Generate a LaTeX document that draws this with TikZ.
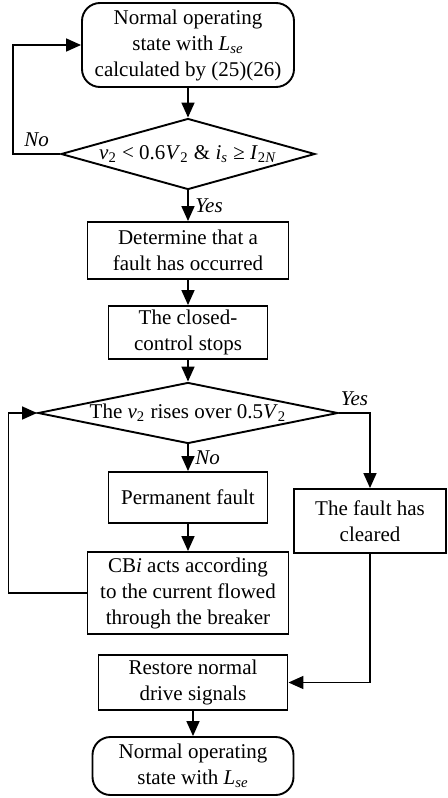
\documentclass[tikz,border=0pt]{standalone}
\usepackage{fontspec}
\setmainfont{Liberation Serif}
\usetikzlibrary{shapes.geometric,arrows.meta}
\newcommand{\Lse}{\textit{L}\textsubscript{\textit{se}}}
\begin{document}
\begin{tikzpicture}[x=0.5pt, y=-0.5pt,
  every node/.style={font=\fontsize{10.5}{13}\selectfont, align=center},
  box/.style={draw, line width=0.95pt, inner sep=0pt},
  term/.style={box, rounded corners=9pt},
  decision/.style={draw, diamond, line width=0.95pt, inner sep=0pt},
  arr/.style={-{Triangle[length=7.5pt,width=6.5pt]}, line width=0.8pt},
  lbl/.style={font=\fontsize{10.5}{13}\selectfont\itshape}]
\useasboundingbox (0,0) rectangle (448,798);
% main column
\node[term, minimum width=106pt, minimum height=42pt] (start) at (188,45) {Normal operating\\state with \Lse\\calculated by (25)(26)};
\node[decision, minimum width=127pt, minimum height=35.5pt] (fault) at (188,154) {\makebox[0pt]{\textit{v}\textsubscript{2} < 0.6\textit{V}\textsubscript{2} \& \textit{i}\textsubscript{\textit{s}} ≥ \textit{I}\textsubscript{2\textit{N}}}};
\node[box, minimum width=100.5pt, minimum height=28.5pt] (occur) at (188,250.5) {Determine that a\\fault has occurred};
\node[box, minimum width=79.5pt, minimum height=26.5pt] (stop) at (188,332.5) {The closed-\\control stops};
\node[decision, minimum width=150pt, minimum height=30.5pt] (rise) at (188,413) {\makebox[0pt]{The \textit{v}\textsubscript{2} rises over 0.5\textit{V}\textsubscript{2}}};
\node[box, minimum width=79.5pt, minimum height=25.5pt] (perm) at (188,497.5) {Permanent fault};
\node[box, minimum width=100.5pt, minimum height=41pt] (cb) at (188,593) {CB\textit{i} acts according\\to the current flowed\\through the breaker};
% right branch
\node[box, minimum width=76pt, minimum height=32pt] (clear) at (370,521) {The fault has\\cleared};
\node[box, minimum width=94.5pt, minimum height=27.5pt] (restore) at (193,682.5) {Restore normal\\drive signals};
\node[term, minimum width=100.5pt, minimum height=29pt] (finish) at (193,766) {Normal operating\\state with \Lse};
% connectors
\draw[arr] (start) -- (fault);
\draw[arr] (fault.south) -- node[lbl, right]{Yes} (occur.north);
\draw[arr] (fault.west) -- node[lbl, above]{No} ++(-47,0) |- (start.west);
\draw[arr] (occur) -- (stop);
\draw[arr] (stop) -- (rise);
\draw[arr] (rise.south) -- node[lbl, right]{No} (perm.north);
\draw[arr] (perm) -- (cb);
\draw[arr] (cb.west) -- ++(-78,0) |- (rise.west);
\draw[arr] (rise.east) -| node[lbl, above, pos=0.25]{Yes} (clear.north);
\draw[arr] (clear.south) |- (restore.east);
\draw[arr] (restore) -- (finish);
\end{tikzpicture}
\end{document}
